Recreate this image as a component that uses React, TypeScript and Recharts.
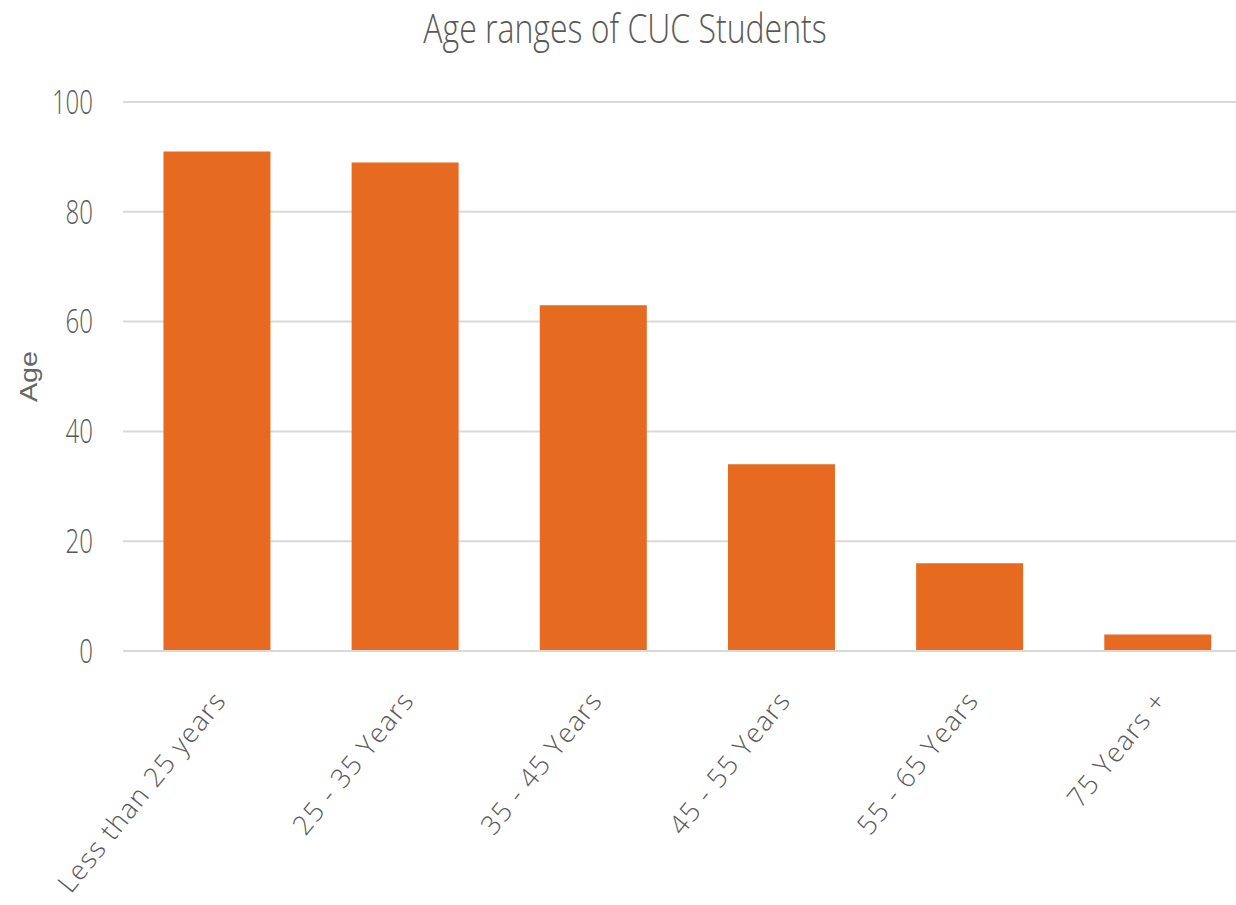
import { BarChart, Bar, XAxis, YAxis, CartesianGrid } from "recharts";

const ageGroups = ["Less than 25 years", "25 - 35 Years", "35 - 45 Years", "45 - 55 Years", "55 - 65 Years", "75 Years +"];
const studentCounts = [91, 89, 63, 34, 16, 3];
const yTicks = [0, 20, 40, 60, 80, 100];

const data = ageGroups.map((group, i) => ({ group, count: studentCounts[i] }));

const FONT = "'Open Sans', 'Noto Sans', sans-serif";
const TEXT_COLOR = "#595959";
// the reference's lettering is a bit stretched vertically
const STRETCH = 1.4;

const AngledTick = ({ x, y, payload }: any) => (
    <g transform={`translate(${x + 3},${y + 36}) rotate(-51)`}>
        <text textAnchor="end" dy="0.35em" fill={TEXT_COLOR} fontSize={27} fontWeight={300} letterSpacing={1.3} fontFamily={FONT}>
            {payload.value}
        </text>
    </g>
);

const ValueTick = ({ x, y, payload }: any) => (
    <g transform={`translate(${x},${y}) scale(1,${STRETCH})`}>
        <text textAnchor="end" dy="0.35em" fill={TEXT_COLOR} fontSize={24} fontWeight={300} fontFamily={FONT}>
            {payload.value}
        </text>
    </g>
);

const AgeLabel = ({ viewBox }: any) => (
    <g transform={`translate(${viewBox.x + 29},${viewBox.y + viewBox.height / 2}) scale(1,1.2) rotate(-90)`}>
        <text textAnchor="middle" dy="0.35em" fill="#666666" fontSize={24} fontFamily="'Liberation Sans', Arial, sans-serif">
            Age
        </text>
    </g>
);

export default function App() {
    return (
        <div style={{ position: "absolute", left: 0, top: 0, width: 1236, height: 905, overflow: "hidden", background: "#fff" }}>
            <svg width={1236} height={70} style={{ position: "absolute", left: 0, top: 0 }}>
                <g transform="translate(625,43) scale(1,1.25)">
                    <text textAnchor="middle" fill={TEXT_COLOR} fontSize={32} fontWeight={300} fontFamily={FONT}>
                        Age ranges of CUC Students
                    </text>
                </g>
            </svg>
            <BarChart
                width={1260}
                height={905}
                data={data}
                margin={{ top: 102, right: 8, left: 0, bottom: 0 }}
                barCategoryGap="21.5%"
            >
                <CartesianGrid vertical={false} stroke="#d9d9d9" strokeWidth={2} />
                <XAxis
                    dataKey="group"
                    interval={0}
                    height={254}
                    tick={<AngledTick />}
                    tickLine={false}
                    axisLine={{ stroke: "#d9d9d9", strokeWidth: 2 }}
                />
                <YAxis
                    width={123}
                    domain={[0, 100]}
                    ticks={yTicks}
                    axisLine={false}
                    tickLine={false}
                    tickSize={0}
                    tickMargin={30}
                    tick={<ValueTick />}
                    label={{ content: <AgeLabel /> }}
                />
                <Bar dataKey="count" fill="#E66B21" isAnimationActive={false} />
            </BarChart>
        </div>
    );
}
